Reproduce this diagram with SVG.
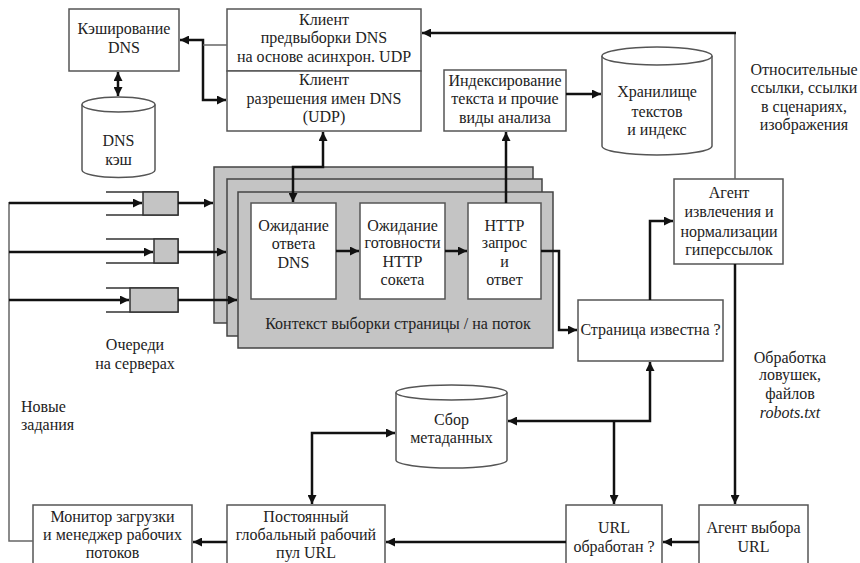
<svg xmlns="http://www.w3.org/2000/svg" width="860" height="563" viewBox="0 0 860 563">
<style>
.box{fill:#fff;stroke:#555;stroke-width:1.5}
.panel{fill:#c4c4c4;stroke:#444;stroke-width:1.5}
.q{fill:#c4c4c4;stroke:#333;stroke-width:1.5}
.ql{fill:none;stroke:#333;stroke-width:1.5}
text{font-family:'Liberation Serif','DejaVu Serif',serif;font-size:16px;fill:#222;text-anchor:middle}
.tl{text-anchor:start}
.it{font-style:italic}
.c{fill:none;stroke:#111;stroke-width:2.5}
.thin{fill:none;stroke:#666;stroke-width:1.5}
</style>
<defs>
<marker id="a" viewBox="0 0 10 10" refX="10" refY="5" markerWidth="11" markerHeight="9" markerUnits="userSpaceOnUse" orient="auto-start-reverse">
<path d="M0,0 L10,5 L0,10 Z" fill="#111"/>
</marker>
</defs>
<rect width="860" height="563" fill="#fff"/>

<g id="dns-cache-box">
<rect class="box" x="69" y="9" width="110" height="62"/>
<text x="124" y="34">Кэширование</text>
<text x="124" y="53">DNS</text>
</g>

<g id="dns-cache-db">
<path class="box" d="M82,104.5 V170 A36.5,7.5 0 0 0 155,170 V104.5"/>
<ellipse class="box" cx="118.5" cy="104.5" rx="36.5" ry="7.5"/>
<text x="118.5" y="146">DNS</text>
<text x="118.5" y="165">кэш</text>
</g>

<g id="dns-prefetch-client">
<rect class="box" x="227" y="9" width="194" height="62"/>
<text x="324" y="25">Клиент</text>
<text x="324" y="43">предвыборки DNS</text>
<text x="324" y="62">на основе асинхрон. UDP</text>
</g>

<g id="dns-resolve-client">
<rect class="box" x="227" y="71" width="194" height="60"/>
<text x="324" y="85">Клиент</text>
<text x="324" y="104">разрешения имен DNS</text>
<text x="324" y="122">(UDP)</text>
</g>

<g id="indexing">
<rect class="box" x="444" y="70" width="122" height="61"/>
<text x="505" y="86">Индексирование</text>
<text x="505" y="104">текста и прочие</text>
<text x="505" y="123">виды анализа</text>
</g>

<g id="text-store">
<path class="box" d="M602,56 V146 A55,9 0 0 0 712,146 V56"/>
<ellipse class="box" cx="657" cy="56" rx="55" ry="9"/>
<text x="657" y="97">Хранилище</text>
<text x="657" y="117">текстов</text>
<text x="657" y="135">и индекс</text>
</g>

<g id="note-relative">
<text x="804" y="75">Относительные</text>
<text x="804" y="93">ссылки, ссылки</text>
<text x="804" y="112">в сценариях,</text>
<text x="804" y="130">изображения</text>
</g>

<g id="fetch-context">
<rect class="panel" x="214" y="167" width="319" height="156"/>
<rect class="panel" x="227" y="179" width="315" height="157"/>
<rect class="panel" x="238" y="192" width="315" height="156"/>
<text x="398" y="329">Контекст выборки страницы / на поток</text>
</g>

<g id="wait-dns">
<rect class="box" x="251" y="203" width="85" height="96"/>
<text x="293.5" y="231">Ожидание</text>
<text x="293.5" y="249">ответа</text>
<text x="293.5" y="268">DNS</text>
</g>

<g id="wait-socket">
<rect class="box" x="360" y="203" width="85" height="96"/>
<text x="402.5" y="231">Ожидание</text>
<text x="402.5" y="248">готовности</text>
<text x="402.5" y="267">HTTP</text>
<text x="402.5" y="285">сокета</text>
</g>

<g id="http-request">
<rect class="box" x="468" y="203" width="73" height="96"/>
<text x="504.5" y="231">HTTP</text>
<text x="504.5" y="248">запрос</text>
<text x="504.5" y="267">и</text>
<text x="504.5" y="285">ответ</text>
</g>

<g id="queues">
<path class="ql" d="M106,192 H178 V215 H106"/>
<rect class="q" x="143" y="192" width="35" height="23"/>
<path class="ql" d="M106,239 H178 V263 H106"/>
<rect class="q" x="154" y="239" width="24" height="24"/>
<path class="ql" d="M106,288 H178 V312 H106"/>
<rect class="q" x="130" y="288" width="48" height="24"/>
<text x="135" y="350">Очереди</text>
<text x="135" y="369">на серверах</text>
</g>

<g id="note-new-tasks">
<text class="tl" x="21" y="412">Новые</text>
<text class="tl" x="21" y="430">задания</text>
</g>

<g id="link-agent">
<rect class="box" x="674" y="179" width="109" height="85"/>
<text x="729" y="198">Агент</text>
<text x="729" y="217">извлечения и</text>
<text x="729" y="237">нормализации</text>
<text x="729" y="255">гиперссылок</text>
</g>

<g id="page-known">
<rect class="box" x="578" y="300" width="145" height="61"/>
<text x="650.5" y="335">Страница известна ?</text>
</g>

<g id="note-traps">
<text x="790" y="363">Обработка</text>
<text x="790" y="380">ловушек,</text>
<text x="790" y="399">файлов</text>
<text class="it" x="790" y="418">robots.txt</text>
</g>

<g id="metadata">
<path class="box" d="M396,392.5 V460 A55.5,8 0 0 0 507,460 V392.5"/>
<ellipse class="box" cx="451.5" cy="392.5" rx="55.5" ry="7.5"/>
<text x="451.5" y="425">Сбор</text>
<text x="451.5" y="443">метаданных</text>
</g>

<g id="monitor">
<rect class="box" x="33" y="505" width="159" height="62"/>
<text x="112.5" y="522">Монитор загрузки</text>
<text x="112.5" y="540">и менеджер рабочих</text>
<text x="112.5" y="558">потоков</text>
</g>

<g id="url-pool">
<rect class="box" x="227" y="505" width="158" height="62"/>
<text x="306" y="522">Постоянный</text>
<text x="306" y="540">глобальный рабочий</text>
<text x="306" y="558">пул URL</text>
</g>

<g id="url-processed">
<rect class="box" x="566" y="505" width="96" height="62"/>
<text x="614" y="533">URL</text>
<text x="614" y="552">обработан ?</text>
</g>

<g id="url-select-agent">
<rect class="box" x="699" y="505" width="109" height="62"/>
<text x="753.5" y="533">Агент выбора</text>
<text x="753.5" y="552">URL</text>
</g>

<g id="connectors">
<path class="c" d="M118,72 V96" marker-start="url(#a)" marker-end="url(#a)"/>
<path class="c" d="M180,40 H203 V100 H226" marker-start="url(#a)" marker-end="url(#a)"/>
<path class="thin" d="M203,45 H227"/>
<path class="thin" d="M735,179 V33"/>
<path class="c" d="M736,33 H422" marker-end="url(#a)"/>
<path class="c" d="M323,132 V167 H293 V202" marker-start="url(#a)" marker-end="url(#a)"/>
<path class="c" d="M506,203 V132" marker-end="url(#a)"/>
<path class="c" d="M566,94 H601" marker-end="url(#a)"/>
<path class="c" d="M336,251 H359" marker-end="url(#a)"/>
<path class="c" d="M445,251 H467" marker-end="url(#a)"/>
<path class="c" d="M541,251 H559 V330 H577" marker-end="url(#a)"/>
<path class="c" d="M650,300 V221 H673" marker-end="url(#a)"/>
<path class="c" d="M735,264 V504" marker-end="url(#a)"/>
<path class="c" d="M699,542 H663" marker-end="url(#a)"/>
<path class="c" d="M566,542 H386" marker-end="url(#a)"/>
<path class="c" d="M227,542 H193" marker-end="url(#a)"/>
<path class="thin" d="M33,541 H9 V202"/>
<path class="c" d="M9,203 H142" marker-end="url(#a)"/>
<path class="c" d="M9,252 H153" marker-end="url(#a)"/>
<path class="c" d="M9,300 H129" marker-end="url(#a)"/>
<path class="c" d="M178,203 H213" marker-end="url(#a)"/>
<path class="c" d="M178,252 H226" marker-end="url(#a)"/>
<path class="c" d="M178,300 H237" marker-end="url(#a)"/>
<path class="c" d="M508,421 H650 V362" marker-start="url(#a)" marker-end="url(#a)"/>
<path class="c" d="M614,421 V504" marker-end="url(#a)"/>
<path class="c" d="M395,433 H312 V504" marker-start="url(#a)" marker-end="url(#a)"/>
</g>
</svg>
